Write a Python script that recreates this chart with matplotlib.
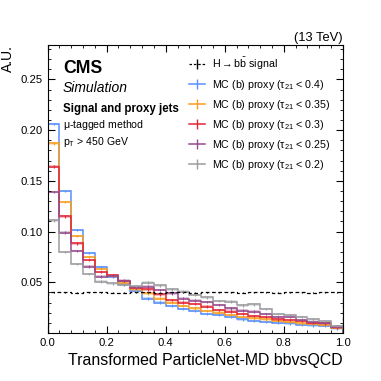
import numpy as np
import matplotlib as mpl

mpl.use('agg')

import matplotlib.pyplot as plt
from matplotlib.lines import Line2D
from matplotlib.ticker import MultipleLocator

plt.rcParams['font.family'] = ['Liberation Sans', 'DejaVu Sans']
plt.rcParams['mathtext.fontset'] = 'custom'
plt.rcParams['mathtext.rm'] = 'Liberation Sans'
plt.rcParams['mathtext.it'] = 'Liberation Sans:italic'
plt.rcParams['mathtext.bf'] = 'Liberation Sans:bold'

edges = np.linspace(0.0, 1.0, 26)

signal = [0.0400, 0.0401, 0.0399, 0.0400, 0.0402, 0.0399, 0.0398, 0.0401, 0.0400,
          0.0399, 0.0401, 0.0400, 0.0398, 0.0400, 0.0402, 0.0401, 0.0399, 0.0403,
          0.0400, 0.0399, 0.0400, 0.0401, 0.0399, 0.0400, 0.0400]

proxy_04 = [0.206, 0.140, 0.1015, 0.079, 0.065, 0.055, 0.048, 0.0417, 0.034, 0.030,
            0.0266, 0.0237, 0.0217, 0.019, 0.0178, 0.0155, 0.0135, 0.0121, 0.0111,
            0.010, 0.0095, 0.0079, 0.0076, 0.0069, 0.0046]
proxy_035 = [0.187, 0.129, 0.0957, 0.075, 0.063, 0.056, 0.0495, 0.043, 0.039, 0.034,
             0.030, 0.0266, 0.0243, 0.0217, 0.020, 0.0178, 0.0155, 0.0145, 0.0135,
             0.012, 0.011, 0.0095, 0.0089, 0.0079, 0.005]
proxy_03 = [0.164, 0.115, 0.0884, 0.072, 0.060, 0.057, 0.051, 0.0444, 0.043, 0.038,
            0.0325, 0.030, 0.0286, 0.026, 0.0227, 0.021, 0.0187, 0.0168, 0.0155,
            0.0135, 0.0128, 0.0118, 0.010, 0.0095, 0.0056]
proxy_025 = [0.139, 0.099, 0.081, 0.0654, 0.0555, 0.056, 0.0516, 0.045, 0.0457, 0.0424,
             0.039, 0.034, 0.0319, 0.0305, 0.0276, 0.0243, 0.022, 0.021, 0.0187,
             0.016, 0.0155, 0.0128, 0.011, 0.010, 0.0062]
proxy_02 = [0.111, 0.080, 0.068, 0.058, 0.0506, 0.049, 0.0476, 0.0464, 0.0496, 0.047,
            0.043, 0.0407, 0.0375, 0.035, 0.0316, 0.031, 0.0273, 0.0283, 0.0234,
            0.0187, 0.0177, 0.0155, 0.0135, 0.0118, 0.0069]

proxies = [proxy_04, proxy_035, proxy_03, proxy_025, proxy_02]
cuts = ["0.4", "0.35", "0.3", "0.25", "0.2"]
colors = ["#5790fc", "#f89c20", "#e42536", "#964a8b", "#9c9ca1"]

xticks = [0.0, 0.2, 0.4, 0.6, 0.8, 1.0]
yticks = [0.05, 0.10, 0.15, 0.20, 0.25]

fig = plt.figure(figsize=(3.81, 3.81), dpi=100)
ax = fig.add_axes([0.125, 0.126, 0.775, 0.756])

centers = 0.5 * (edges[1:] + edges[:-1])
err = 0.0012

for vals, c in zip(proxies, colors):
    v = np.array(vals)
    ax.stairs(v + err, edges, baseline=v - err, fill=True, color=c, alpha=0.3, lw=0)
    ax.stairs(v, edges, color=c, lw=1.1)
    ax.errorbar(centers, v, yerr=err, fmt='none', ecolor=c, elinewidth=0.8)

s = np.array(signal)
ax.stairs(s, edges, color='black', lw=0.9, linestyle=(0, (3, 2)))
ax.errorbar(centers, s, yerr=0.0006, fmt='none', ecolor='black', elinewidth=0.8)

ax.set_xticks(xticks)
ax.set_xticklabels(["%.1f" % t for t in xticks])
ax.set_yticks(yticks)
ax.set_yticklabels(["%.2f" % t for t in yticks])
ax.xaxis.set_minor_locator(MultipleLocator(0.04))
ax.yaxis.set_minor_locator(MultipleLocator(0.01))
ax.set_xlim(0, 1)
ax.set_ylim(0, 0.284)
ax.tick_params(which='both', direction='in', top=True, right=True, labelsize=8.1)
ax.tick_params(which='major', length=5, width=0.8)
ax.tick_params(which='minor', length=2.5, width=0.6)

ax.set_xlabel("Transformed ParticleNet-MD bbvsQCD", fontsize=11.4, loc='right')
ax.set_ylabel("A.U.", fontsize=10, loc='top')

ax.text(0.052, 0.903, "CMS", transform=ax.transAxes, fontsize=12.7, fontweight='bold')
ax.text(0.052, 0.838, "Simulation", transform=ax.transAxes, fontsize=10, style='italic')
ax.text(0.052, 0.768, "Signal and proxy jets", transform=ax.transAxes, fontsize=8.3,
        fontweight='bold')
ax.text(0.052, 0.712, r"$\mathregular{\mu}$-tagged method", transform=ax.transAxes,
        fontsize=7.6)
ax.text(0.052, 0.653, r"$\mathregular{p_T}$ > 450 GeV", transform=ax.transAxes,
        fontsize=7.6)
ax.text(1.0, 1.005, "(13 TeV)", transform=ax.transAxes, fontsize=9.3, ha='right',
        va='bottom')

handles = [Line2D([], [], color='black', lw=0.9, linestyle=(0, (2, 1.5)), marker='|',
                  markersize=7)]
labels = [r"$\mathregular{H\rightarrow b\bar{b}}$ signal"]
for cut, c in zip(cuts, colors):
    handles.append(Line2D([], [], color=c, lw=1.1, marker='|', markersize=7))
    labels.append(r"MC (b) proxy ($\mathregular{\tau_{21}}$ < " + cut + ")")

ax.legend(handles, labels, loc='upper right', bbox_to_anchor=(0.99, 0.995),
          frameon=False, fontsize=7.7, handlelength=1.5, labelspacing=0.55,
          handletextpad=0.6)

fig.savefig('out.png', dpi=100)
